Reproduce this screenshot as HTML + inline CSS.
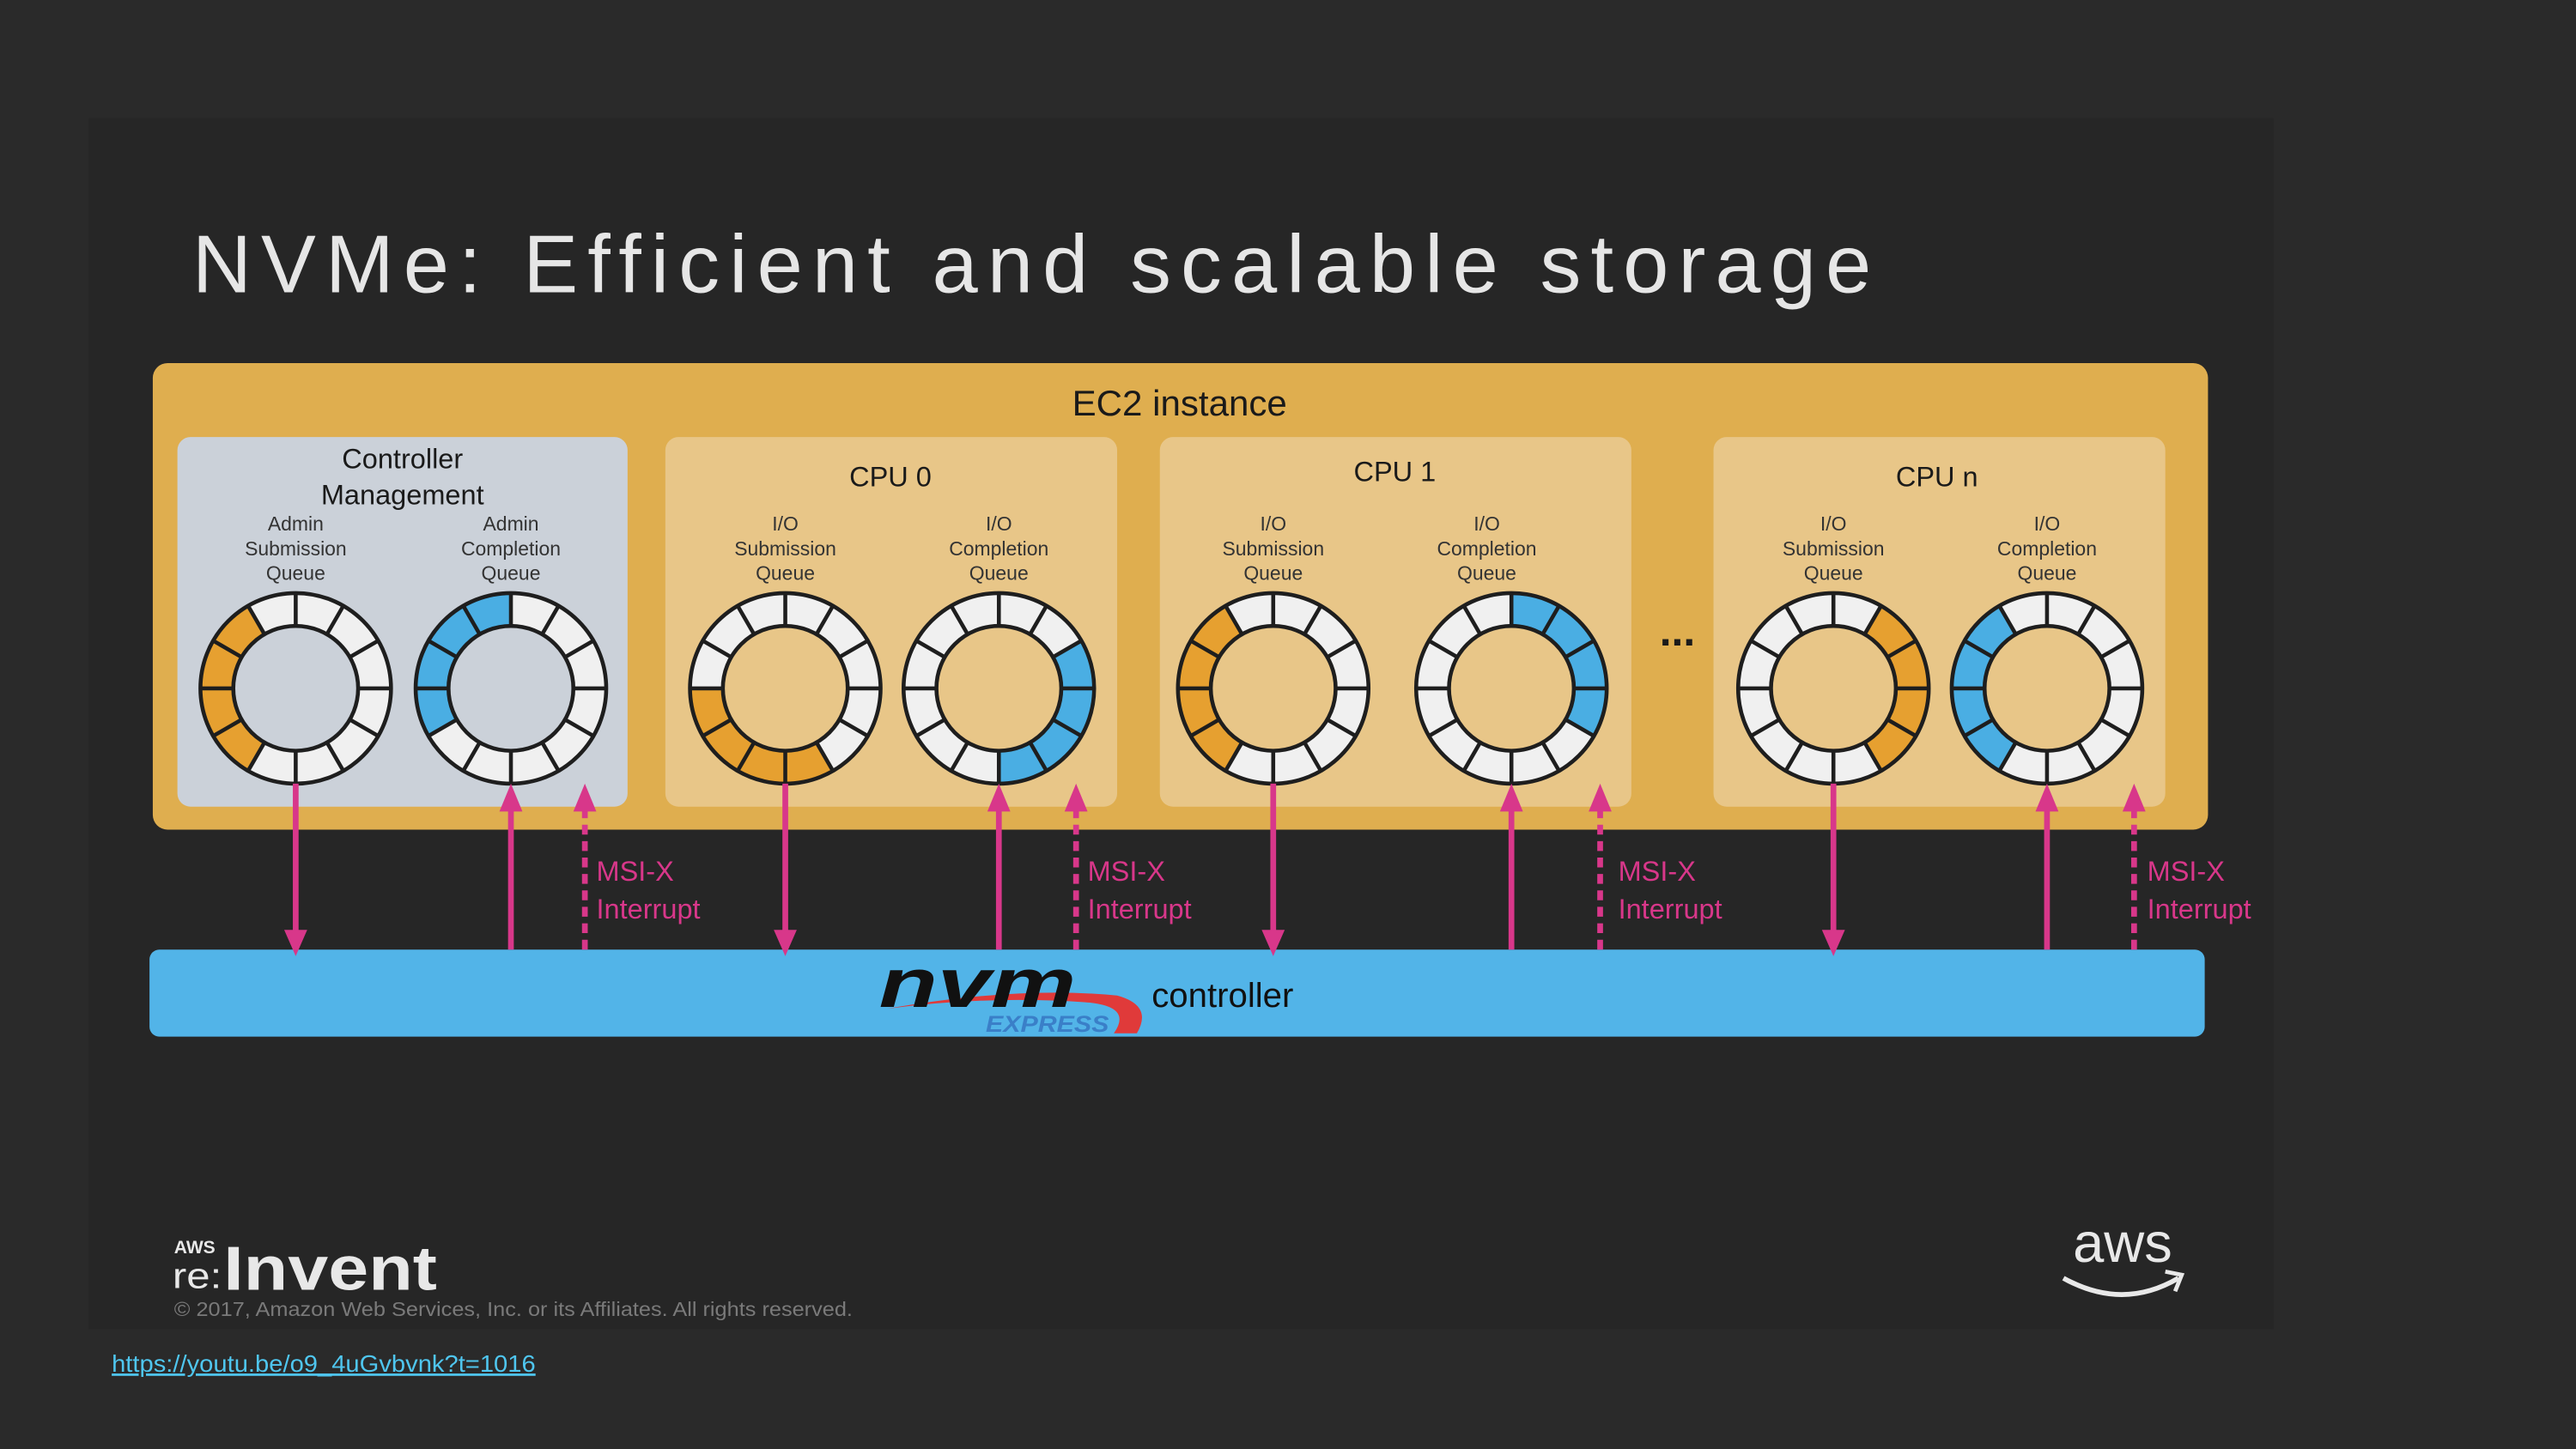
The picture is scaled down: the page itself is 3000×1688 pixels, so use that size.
<!DOCTYPE html>
<html><head><meta charset="utf-8"><style>
html,body{margin:0;padding:0;background:#2a2a2a;}
svg{display:block;}
</style></head><body>
<svg width="3000" height="1688" viewBox="0 0 1568 882" preserveAspectRatio="none" xmlns="http://www.w3.org/2000/svg">
<defs>
<g id="sp" stroke="#1e1e1e" stroke-width="2.4" fill="none">
<circle r="58"/><circle r="38"/>
<line x1="0" y1="-38" x2="0" y2="-58"/>
<line x1="0" y1="-38" x2="0" y2="-58" transform="rotate(30)"/>
<line x1="0" y1="-38" x2="0" y2="-58" transform="rotate(60)"/>
<line x1="0" y1="-38" x2="0" y2="-58" transform="rotate(90)"/>
<line x1="0" y1="-38" x2="0" y2="-58" transform="rotate(120)"/>
<line x1="0" y1="-38" x2="0" y2="-58" transform="rotate(150)"/>
<line x1="0" y1="-38" x2="0" y2="-58" transform="rotate(180)"/>
<line x1="0" y1="-38" x2="0" y2="-58" transform="rotate(210)"/>
<line x1="0" y1="-38" x2="0" y2="-58" transform="rotate(240)"/>
<line x1="0" y1="-38" x2="0" y2="-58" transform="rotate(270)"/>
<line x1="0" y1="-38" x2="0" y2="-58" transform="rotate(300)"/>
<line x1="0" y1="-38" x2="0" y2="-58" transform="rotate(330)"/>
</g>
<circle id="base" r="48" fill="none" stroke="#f0f0f0" stroke-width="20"/>
</defs>
<rect width="1568" height="882" fill="#2a2a2a"/>
<rect x="54" y="72" width="1330" height="737" fill="#262626"/>
<text x="117" y="178" font-family="Liberation Sans, sans-serif" font-size="50" fill="#e6e6e6" textLength="1022" lengthAdjust="spacing">NVMe: Efficient and scalable storage</text>

<rect x="93" y="221" width="1251" height="284" rx="9" fill="#dfae4f"/>
<text x="718" y="253" text-anchor="middle" font-family="Liberation Sans, sans-serif" font-size="22" fill="#1a1a1a">EC2 instance</text>

<rect x="108" y="266" width="274" height="225" rx="8" fill="#cbd1d9"/>
<rect x="405" y="266" width="275" height="225" rx="8" fill="#e8c688"/>
<rect x="706" y="266" width="287" height="225" rx="8" fill="#e8c688"/>
<rect x="1043" y="266" width="275" height="225" rx="8" fill="#e8c688"/>

<g font-family="Liberation Sans, sans-serif" fill="#1a1a1a" font-size="17" text-anchor="middle">
<text x="245" y="285">Controller</text><text x="245" y="307">Management</text>
<text x="542" y="296">CPU 0</text><text x="849" y="293">CPU 1</text><text x="1179" y="296">CPU n</text>
<text x="1021" y="393" font-size="26" font-weight="bold">...</text>
</g>
<g font-family="Liberation Sans, sans-serif" fill="#333" font-size="12" text-anchor="middle">
<text x="180" y="323">Admin</text><text x="180" y="338">Submission</text><text x="180" y="353">Queue</text>
<text x="311" y="323">Admin</text><text x="311" y="338">Completion</text><text x="311" y="353">Queue</text>
<text x="478" y="323">I/O</text><text x="478" y="338">Submission</text><text x="478" y="353">Queue</text>
<text x="608" y="323">I/O</text><text x="608" y="338">Completion</text><text x="608" y="353">Queue</text>
<text x="775" y="323">I/O</text><text x="775" y="338">Submission</text><text x="775" y="353">Queue</text>
<text x="905" y="323">I/O</text><text x="905" y="338">Completion</text><text x="905" y="353">Queue</text>
<text x="1116" y="323">I/O</text><text x="1116" y="338">Submission</text><text x="1116" y="353">Queue</text>
<text x="1246" y="323">I/O</text><text x="1246" y="338">Completion</text><text x="1246" y="353">Queue</text>
</g>

<g fill="none" stroke-width="20">
<g transform="translate(180,419) rotate(-90)"><use href="#base"/><circle r="48" stroke="#e6a030" stroke-dasharray="100.53 400" stroke-dashoffset="-175.93"/></g>
<g transform="translate(311,419) rotate(-90)"><use href="#base"/><circle r="48" stroke="#4aaee3" stroke-dasharray="100.53 400" stroke-dashoffset="-201.06"/></g>
<g transform="translate(478,419) rotate(-90)"><use href="#base"/><circle r="48" stroke="#e6a030" stroke-dasharray="100.53 400" stroke-dashoffset="-125.66"/></g>
<g transform="translate(608,419) rotate(-90)"><use href="#base"/><circle r="48" stroke="#4aaee3" stroke-dasharray="100.53 400" stroke-dashoffset="-50.27"/></g>
<g transform="translate(775,419) rotate(-90)"><use href="#base"/><circle r="48" stroke="#e6a030" stroke-dasharray="100.53 400" stroke-dashoffset="-175.93"/></g>
<g transform="translate(920,419) rotate(-90)"><use href="#base"/><circle r="48" stroke="#4aaee3" stroke-dasharray="100.53 400" stroke-dashoffset="0"/></g>
<g transform="translate(1116,419) rotate(-90)"><use href="#base"/><circle r="48" stroke="#e6a030" stroke-dasharray="100.53 400" stroke-dashoffset="-25.13"/></g>
<g transform="translate(1246,419) rotate(-90)"><use href="#base"/><circle r="48" stroke="#4aaee3" stroke-dasharray="100.53 400" stroke-dashoffset="-175.93"/></g>
</g>
<use href="#sp" x="180" y="419"/><use href="#sp" x="311" y="419"/>
<use href="#sp" x="478" y="419"/><use href="#sp" x="608" y="419"/>
<use href="#sp" x="775" y="419"/><use href="#sp" x="920" y="419"/>
<use href="#sp" x="1116" y="419"/><use href="#sp" x="1246" y="419"/>

<rect x="91" y="578" width="1251" height="53" rx="6" fill="#52b4e8"/>

<g stroke="#d8378a" stroke-width="3.5" fill="#d8378a">
<line x1="180" y1="477" x2="180" y2="568"/><polygon points="173,566 187,566 180,582" stroke="none"/>
<line x1="478" y1="477" x2="478" y2="568"/><polygon points="471,566 485,566 478,582" stroke="none"/>
<line x1="775" y1="477" x2="775" y2="568"/><polygon points="768,566 782,566 775,582" stroke="none"/>
<line x1="1116" y1="477" x2="1116" y2="568"/><polygon points="1109,566 1123,566 1116,582" stroke="none"/>
<line x1="311" y1="578" x2="311" y2="490"/><polygon points="304,494 318,494 311,477" stroke="none"/>
<line x1="608" y1="578" x2="608" y2="490"/><polygon points="601,494 615,494 608,477" stroke="none"/>
<line x1="920" y1="578" x2="920" y2="490"/><polygon points="913,494 927,494 920,477" stroke="none"/>
<line x1="1246" y1="578" x2="1246" y2="490"/><polygon points="1239,494 1253,494 1246,477" stroke="none"/>
<g stroke-dasharray="6 4">
<line x1="356" y1="578" x2="356" y2="492"/><line x1="655" y1="578" x2="655" y2="492"/>
<line x1="974" y1="578" x2="974" y2="492"/><line x1="1299" y1="578" x2="1299" y2="492"/>
</g>
<polygon points="349,494 363,494 356,477" stroke="none"/>
<polygon points="648,494 662,494 655,477" stroke="none"/>
<polygon points="967,494 981,494 974,477" stroke="none"/>
<polygon points="1292,494 1306,494 1299,477" stroke="none"/>
</g>
<g font-family="Liberation Sans, sans-serif" font-size="17" fill="#d8378a">
<text x="363" y="536">MSI-X</text><text x="363" y="559">Interrupt</text>
<text x="662" y="536">MSI-X</text><text x="662" y="559">Interrupt</text>
<text x="985" y="536">MSI-X</text><text x="985" y="559">Interrupt</text>
<text x="1307" y="536">MSI-X</text><text x="1307" y="559">Interrupt</text>
</g>

<path d="M540,614 Q620,600 680,606 Q702,612 692,629 L678,629 Q690,612 660,610 Q600,606 540,614 Z" fill="#e03a3a"/>
<text x="535" y="613" font-family="Liberation Sans, sans-serif" font-size="42" font-weight="bold" font-style="italic" fill="#111" textLength="120" lengthAdjust="spacingAndGlyphs">nvm</text>
<text x="600" y="628" font-family="Liberation Sans, sans-serif" font-size="14" font-weight="bold" font-style="italic" fill="#3a7fc8" textLength="75" lengthAdjust="spacingAndGlyphs">EXPRESS</text>
<text x="701" y="613" font-family="Liberation Sans, sans-serif" font-size="21" fill="#111">controller</text>

<text x="106" y="763" font-family="Liberation Sans, sans-serif" font-size="11" font-weight="bold" fill="#e8e8e8">AWS</text>
<text x="105" y="784" font-family="Liberation Sans, sans-serif" font-size="22" fill="#e8e8e8" textLength="30" lengthAdjust="spacingAndGlyphs">re:</text>
<text x="136" y="785" font-family="Liberation Sans, sans-serif" font-size="38" font-weight="bold" fill="#e8e8e8" textLength="130" lengthAdjust="spacingAndGlyphs">Invent</text>
<text x="106" y="801" font-family="Liberation Sans, sans-serif" font-size="12" fill="#7a7a7a" textLength="413" lengthAdjust="spacingAndGlyphs">© 2017, Amazon Web Services, Inc. or its Affiliates. All rights reserved.</text>
<text x="1292" y="768" text-anchor="middle" font-family="Liberation Sans, sans-serif" font-size="34" fill="#e8e8e8">aws</text>
<path d="M1256,778 Q1292,798 1326,778" stroke="#e8e8e8" stroke-width="3" fill="none"/>
<path d="M1318,774 L1328,776 L1324,786" stroke="#e8e8e8" stroke-width="2.5" fill="none"/>

<text x="68" y="835" font-family="Liberation Sans, sans-serif" font-size="14.5" fill="#4fc6ef" text-decoration="underline" textLength="258" lengthAdjust="spacingAndGlyphs">https://youtu.be/o9_4uGvbvnk?t=1016</text>
</svg>
</body></html>
